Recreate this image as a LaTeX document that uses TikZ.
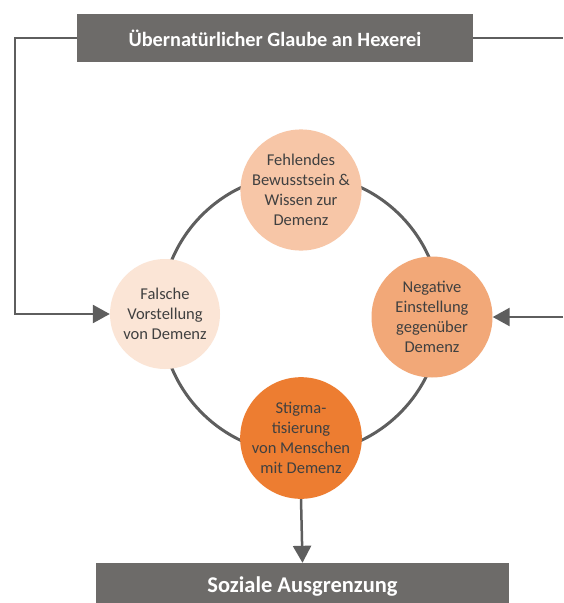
\documentclass[tikz,border=0pt]{standalone}
\usepackage{fontspec}
\setmainfont{Carlito}
\usetikzlibrary{arrows.meta}

\definecolor{boxgray}{HTML}{6D6B69}
\definecolor{linegray}{HTML}{5E5E5E}
\definecolor{txtgray}{HTML}{404040}
\definecolor{peachA}{HTML}{F7C6A7}
\definecolor{peachB}{HTML}{F2A878}
\definecolor{peachC}{HTML}{ED7D31}
\definecolor{peachD}{HTML}{FBE5D6}

\tikzset{
  banner/.style={fill=boxgray, text=white, inner sep=0pt,
    font=\bfseries\fontsize{#1}{24}\selectfont},
  stage/.style={circle, inner sep=0pt, minimum size=#1, text=txtgray,
    align=center, font=\fontsize{16.5}{20}\selectfont},
  ring/.style={draw=linegray, line width=3pt},
  plain/.style={draw=linegray, line width=2.5pt},
  link/.style={plain, -{Triangle[length=17pt, width=18pt]}},
}

\begin{document}
\begin{tikzpicture}[x=1pt, y=-1pt]
  \useasboundingbox (0,0) rectangle (563,603);
  \fill[white] (0,0) rectangle (563,603);

  % cycle ring behind the four stages
  \coordinate (hub) at (301,314);
  \draw[ring] (hub) circle[radius=140pt];

  % boxes
  \node[banner=20.3, minimum width=396pt, minimum height=48pt] (hex) at (275,38)
    {Übernatürlicher Glaube an Hexerei};
  \node[banner=22.5, minimum width=413pt, minimum height=48pt] (aus) at (302.5,587)
    {Soziale Ausgrenzung};

  % stages of the cycle
  \node[stage=110pt, fill=peachA] (c1) at (301,190)
    {Fehlendes\\Bewusstsein \&\\Wissen zur\\Demenz};
  \node[stage=121pt, fill=peachB] (c2) at (432,317)
    {Negative\\Einstellung\\gegenüber\\Demenz};
  \node[stage=116pt, fill=peachC] (c3) at (301,438)
    {Stigma-\\tisierung\\von Menschen\\mit Demenz};
  \node[stage=110pt, fill=peachD] (c4) at (165,314)
    {Falsche\\Vorstellung\\von Demenz};

  % connectors
  \draw[link] (hex.west) -- ++(-62,0) |- (c4.west);
  \coordinate (edgeTop) at (563,38);
  \coordinate (edgeRight) at (563,317);
  \draw[plain] (hex.east) -- (edgeTop);
  \draw[link] (edgeRight) -- (c2.east);
  \draw[link] (c3.south) -- (aus.north);
\end{tikzpicture}
\end{document}
